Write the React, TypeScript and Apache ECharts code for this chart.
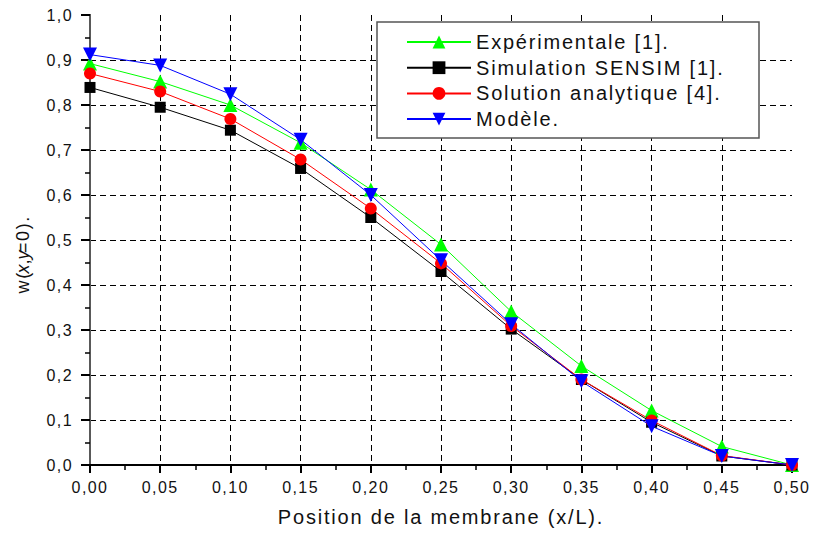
import React, { useEffect, useRef } from "react";
import * as echarts from "echarts";

// Position along the membrane (x/L)
const positions = [0, 0.05, 0.1, 0.15, 0.2, 0.25, 0.3, 0.35, 0.4, 0.45, 0.5];

// Deflection w(x, y=0) for each source
const experimental = [0.892, 0.852, 0.8, 0.716, 0.612, 0.49, 0.341, 0.22, 0.121, 0.041, 0.0];
const simulation = [0.839, 0.795, 0.744, 0.659, 0.55, 0.43, 0.302, 0.19, 0.095, 0.02, 0.0];
const analytic = [0.87, 0.83, 0.769, 0.679, 0.57, 0.448, 0.309, 0.19, 0.099, 0.021, 0.0];
const model = [0.912, 0.888, 0.824, 0.723, 0.6, 0.455, 0.313, 0.186, 0.086, 0.02, 0.0];

const seriesNames = [
  "Expérimentale [1].",
  "Simulation SENSIM [1].",
  "Solution analytique [4].",
  "Modèle.",
];
const xTitle = "Position de la membrane (x/L).";

const FONT = "'Liberation Sans', Arial, Helvetica, sans-serif";
const TEXT = "#111";

const comma = (v: number, d: number) => v.toFixed(d).replace(".", ",");

export default function App() {
  const ref = useRef<HTMLDivElement>(null);

  useEffect(() => {
    if (!ref.current) return;
    const chart = echarts.init(ref.current, undefined, { renderer: "svg" });

    const pairs = (vals: number[]) => positions.map((x, i) => [x, vals[i]]);

    const mkSeries = (
      name: string,
      vals: number[],
      color: string,
      symbol: string,
      symbolSize: number,
      symbolRotate = 0
    ) => ({
      type: "line",
      name,
      data: pairs(vals),
      symbol,
      symbolSize,
      symbolRotate,
      showAllSymbol: true,
      lineStyle: { color, width: 1 },
      itemStyle: { color, borderWidth: 0 },
      emphasis: { disabled: true },
      z: 3,
    });

    const gridDash = { type: [6, 4] as any, color: "#000", width: 1 };

    chart.setOption({
      animation: false,
      backgroundColor: "#fff",
      grid: { left: 90, right: 21, top: 15, bottom: 71 },
      textStyle: { fontFamily: FONT },
      xAxis: [
        {
          type: "value",
          min: 0,
          max: 0.5,
          interval: 0.05,
          position: "bottom",
          axisLine: { lineStyle: { color: "#000", width: 2 } },
          axisTick: { length: 8, lineStyle: { color: "#000", width: 2 } },
          minorTick: { show: true, splitNumber: 2, length: 5, lineStyle: { color: "#000", width: 1.5 } },
          axisLabel: {
            formatter: (v: number) => comma(v, 2),
            fontSize: 16,
            color: TEXT,
            fontFamily: FONT,
            margin: 14,
          },
          splitLine: { show: true, showMinLine: false, showMaxLine: false, lineStyle: gridDash },
          name: xTitle,
          nameLocation: "middle",
          nameGap: 42,
          nameTextStyle: { fontSize: 20, color: TEXT, fontFamily: FONT },
        },
        {
          type: "value",
          min: 0,
          max: 0.5,
          interval: 0.05,
          position: "top",
          axisLine: { lineStyle: { color: "#000", width: 1.5 } },
          axisTick: { inside: true, length: 5, lineStyle: { color: "#000", width: 1.5 } },
          axisLabel: { show: false },
          splitLine: { show: false },
        },
      ],
      yAxis: [
        {
          type: "value",
          min: 0,
          max: 1,
          interval: 0.1,
          position: "left",
          axisLine: { lineStyle: { color: "#000", width: 2 } },
          axisTick: { length: 9, lineStyle: { color: "#000", width: 2 } },
          minorTick: { show: true, splitNumber: 2, length: 5, lineStyle: { color: "#000", width: 1.5 } },
          axisLabel: {
            formatter: (v: number) => comma(v, 1),
            fontSize: 16,
            color: TEXT,
            fontFamily: FONT,
            margin: 17,
          },
          splitLine: { show: true, showMinLine: false, showMaxLine: false, lineStyle: gridDash },
        },
        {
          type: "value",
          min: 0,
          max: 1,
          interval: 0.1,
          position: "right",
          axisLine: { show: true, lineStyle: { color: "#777", width: 1.5 } },
          axisTick: { show: false },
          axisLabel: { show: false },
          splitLine: { show: false },
        },
      ],
      legend: {
        orient: "vertical",
        left: 406,
        top: 32,
        padding: 0,
        itemWidth: 64,
        itemHeight: 16,
        itemGap: 5.7,
        z: 6,
        textStyle: { fontSize: 20, lineHeight: 20, color: TEXT, fontFamily: FONT },
        data: seriesNames,
      },
      graphic: [
        {
          type: "rect",
          z: 5,
          shape: { x: 377, y: 22, width: 382, height: 116 },
          style: { fill: "#fff", stroke: "#555", lineWidth: 1.5 },
        },
        {
          type: "text",
          z: 5,
          x: 23,
          y: 255,
          rotation: Math.PI / 2,
          style: {
            text: "w({i|x},{i|y}=0).",
            fontSize: 18,
            fontFamily: FONT,
            fill: TEXT,
            align: "center",
            verticalAlign: "middle",
            rich: { i: { fontStyle: "italic", fontSize: 18, fontFamily: FONT, fill: TEXT } },
          },
        },
      ],
      series: [
        mkSeries(seriesNames[0], experimental, "#00ff00", "triangle", 14),
        mkSeries(seriesNames[1], simulation, "#000000", "rect", 11),
        mkSeries(seriesNames[2], analytic, "#ff0000", "circle", 12),
        mkSeries(seriesNames[3], model, "#0000ff", "triangle", 14, 180),
      ],
    });

    return () => chart.dispose();
  }, []);

  return (
    <>
      <style>{".wchart text { letter-spacing: 0.09em; }"}</style>
      <div
        ref={ref}
        className="wchart"
        style={{ position: "fixed", left: 0, top: 0, width: 813, height: 536, background: "#fff" }}
      />
    </>
  );
}
